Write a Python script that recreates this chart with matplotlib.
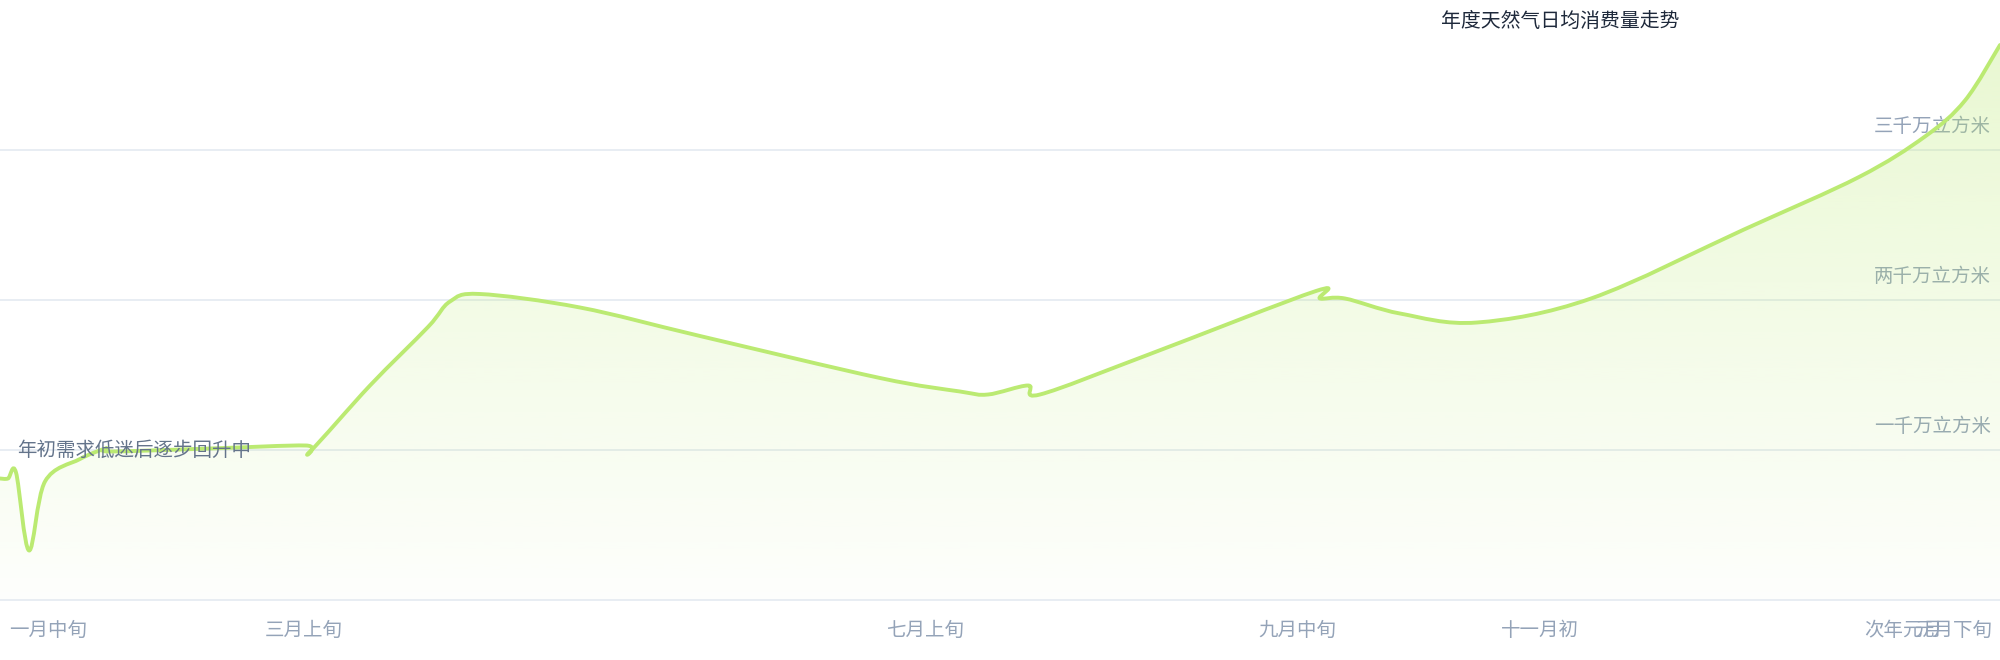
import numpy as np
import matplotlib
matplotlib.use("Agg")
import matplotlib.pyplot as plt
from matplotlib.path import Path
from matplotlib.patches import PathPatch

plt.rcParams["font.family"] = ["Noto Sans CJK SC", "DejaVu Sans"]

# day index (0..400) and value in 千万立方米
days = [0.0, 1.6, 3.2, 5.8, 9.0, 16.0, 21.2, 22.0, 42.0, 61.2, 62.0, 74.0, 85.6,
        90.0, 96.0, 116.0, 140.0, 176.0, 192.0, 197.6, 205.6, 208.0, 230.0,
        263.2, 264.0, 269.0, 280.0, 295.4, 318.2, 348.8, 371.8, 385.0, 393.0, 400.0]
values = [0.81, 0.81, 0.85, 0.33, 0.79, 0.94, 1.01, 0.99, 1.01, 1.03, 0.99,
          1.43, 1.82, 1.99, 2.04, 1.95, 1.76, 1.48, 1.39, 1.37, 1.43, 1.37,
          1.64, 2.06, 2.01, 2.01, 1.91, 1.85, 2.01, 2.47, 2.82, 3.09, 3.33, 3.70]

tick_days = [9.6, 60.8, 185.0, 259.4, 308.0, 380.6, 390.6]
tick_labels = ["一月中旬", "三月上旬", "七月上旬", "九月中旬", "十一月初", "次年元月", "元月下旬"]

grid_values = [1, 2, 3]
grid_labels = ["一千万立方米", "两千万立方米", "三千万立方米"]

title = "年度天然气日均消费量走势"
note = "年初需求低迷后逐步回升中"

LINE = "#bbea72"
GRID = "#e2e8f0"
AXIS_TEXT = "#94a3b8"


def catmull_rom_path(xs, ys):
    pts = np.column_stack([xs, ys])
    n = len(pts)
    verts = [pts[0]]
    codes = [Path.MOVETO]
    for i in range(n - 1):
        p_prev = pts[max(i - 1, 0)]
        p0 = pts[i]
        p1 = pts[i + 1]
        p_next = pts[min(i + 2, n - 1)]
        c1 = p0 + (p1 - p_prev) / 6.0
        c2 = p1 - (p_next - p0) / 6.0
        verts += [c1, c2, p1]
        codes += [Path.CURVE4] * 3
    return verts, codes


fig = plt.figure(figsize=(20, 6.6), dpi=100)
ax = fig.add_axes([0, 60 / 660, 1, 600 / 660])
ax.set_facecolor("white")

verts, codes = catmull_rom_path(days, values)

# gradient area under the curve
fill_verts = verts + [(days[-1], 0), (days[0], 0), (days[0], 0)]
fill_codes = codes + [Path.LINETO, Path.LINETO, Path.CLOSEPOLY]
fill_patch = PathPatch(Path(fill_verts, fill_codes), facecolor="none",
                       edgecolor="none", transform=ax.transData)
ax.add_patch(fill_patch)

rgb = matplotlib.colors.to_rgb(LINE)
alpha = np.linspace(0.02, 0.32, 256)
grad = np.zeros((256, 1, 4))
grad[:, 0, 0], grad[:, 0, 1], grad[:, 0, 2] = rgb
grad[:, 0, 3] = alpha
img = ax.imshow(grad, extent=(days[0], days[-1], 0, max(values)), origin="lower",
                aspect="auto", interpolation="bilinear", zorder=2)
img.set_clip_path(fill_patch)

line_patch = PathPatch(Path(verts, codes), facecolor="none", edgecolor=LINE,
                       linewidth=2.8, capstyle="round", joinstyle="round", zorder=3)
ax.add_patch(line_patch)

ax.set_xlim(0, 400)
ax.set_ylim(0, 4)

# grid and axis line
ax.set_yticks(grid_values)
ax.yaxis.grid(True, color=GRID, linewidth=1.1)
ax.tick_params(axis="y", length=0, labelleft=False)
for side in ["top", "left", "right"]:
    ax.spines[side].set_visible(False)
ax.spines["bottom"].set_color(GRID)
ax.spines["bottom"].set_linewidth(1.1)
ax.spines["bottom"].set_zorder(2.5)

ax.set_xticks(tick_days)
ax.set_xticklabels(tick_labels)
ax.tick_params(axis="x", length=0, pad=14.5, labelsize=14, labelcolor=AXIS_TEXT)

for v, lab in zip(grid_values, grid_labels):
    ax.annotate(lab, xy=(1, v), xycoords=("axes fraction", "data"),
                xytext=(-6.5, 17), textcoords="offset points",
                ha="right", va="center", fontsize=14, color=AXIS_TEXT, zorder=1)

ax.text(3.4, 1.0, note, ha="left", va="center", fontsize=14, color="#64748b", zorder=4)

fig.text(1560 / 2000, 1 - 21 / 660, title, ha="center", va="center",
         fontsize=14.3, color="#1e293b")

fig.savefig("out.png", dpi=100)
